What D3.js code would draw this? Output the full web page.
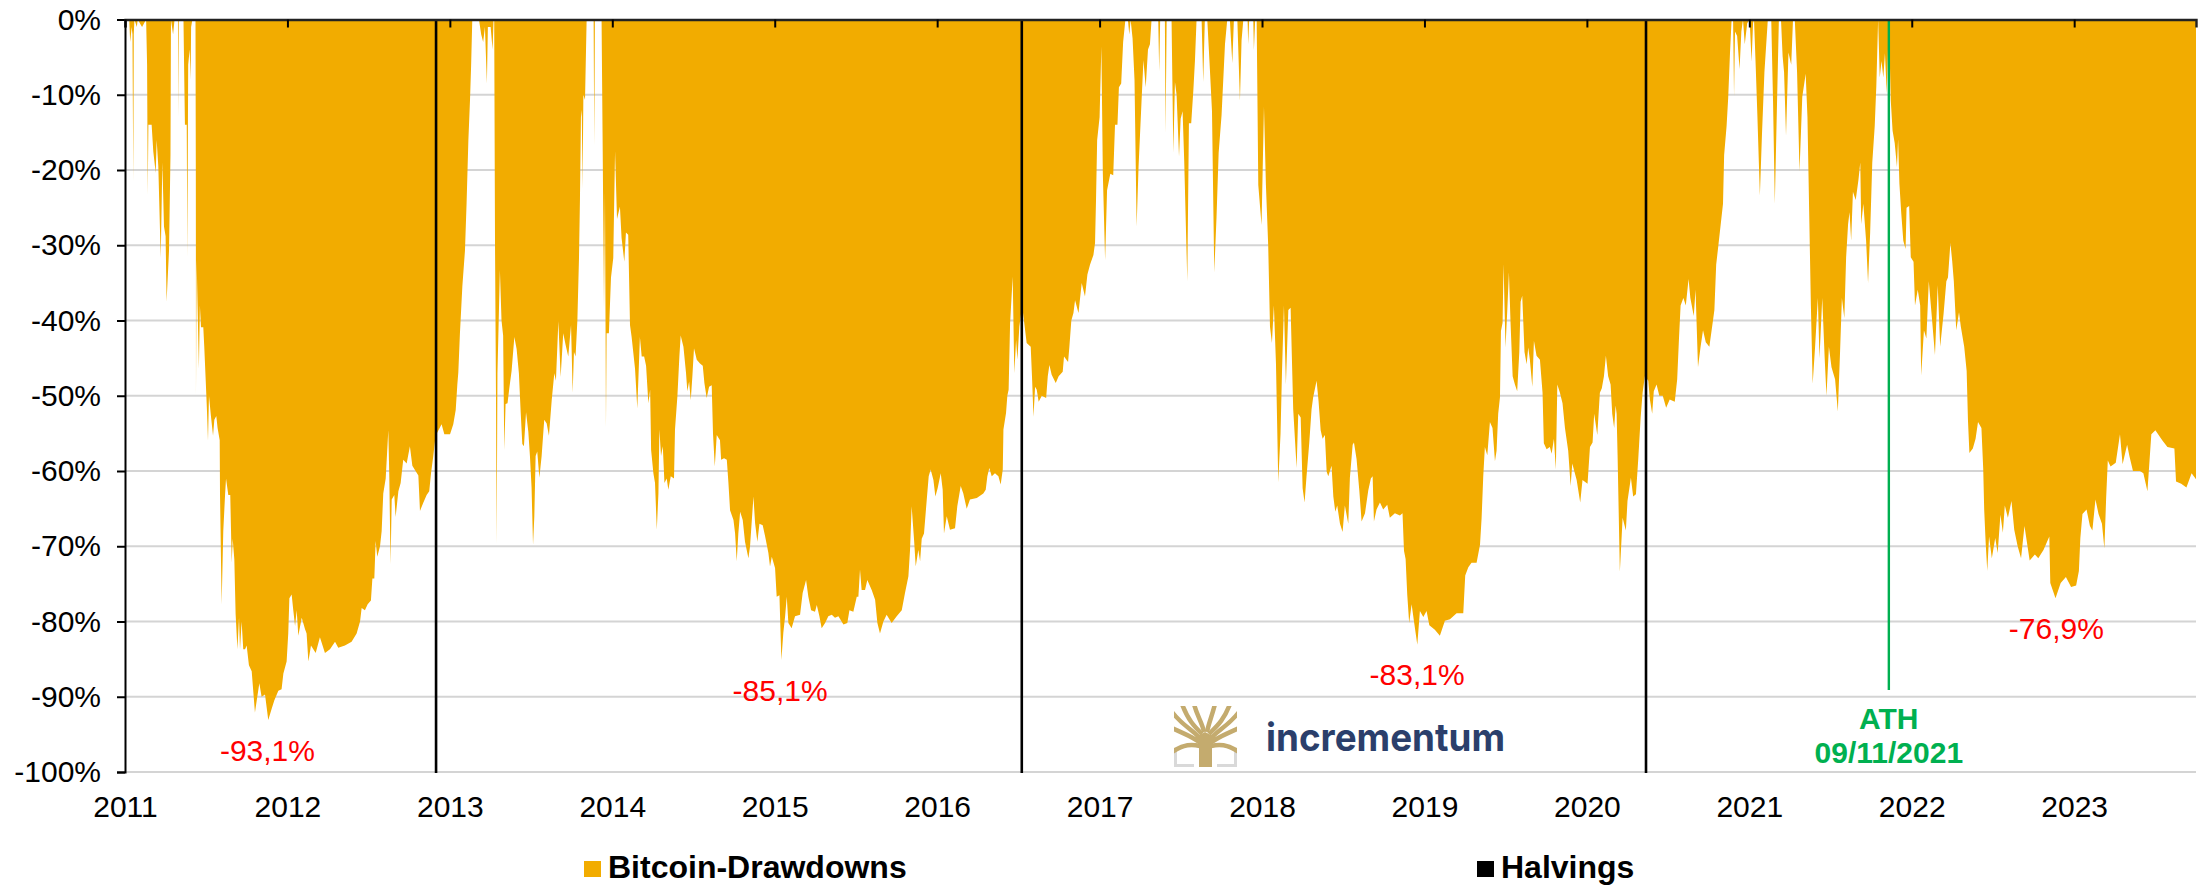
<!DOCTYPE html>
<html>
<head>
<meta charset="utf-8">
<title>Bitcoin-Drawdowns</title>
<script src="https://cdn.jsdelivr.net/npm/d3@7"></script>
<style>
  html, body { margin: 0; padding: 0; background: #fff; overflow: hidden; }
  svg text { font-family: "Liberation Sans", Arial, sans-serif; }
</style>
</head>
<body>
<svg id="chart"></svg>
<script>
const chartWidth = 2204;
const chartHeight = 886;
const plot = { left: 125, right: 2196, top: 19.5, bottom: 772 };

// tick labels
const yearTicks = [2011, 2012, 2013, 2014, 2015, 2016, 2017, 2018, 2019, 2020, 2021, 2022, 2023];
const percentTicks = [0, -10, -20, -30, -40, -50, -60, -70, -80, -90, -100];

// halving dates as fractional years
const halvings = [2012.915, 2016.521, 2020.364];
const athYear = 2021.859;

// [fractional year, drawdown %], one array per halving era
const drawdowns2011 = [
  [2011.000,0],[2011.026,0],[2011.032,-3],[2011.041,-1],[2011.046,-2],[2011.051,-21.7],[2011.054,-2],[2011.058,0],
  [2011.073,-1],[2011.078,0],[2011.105,-1],[2011.130,0],[2011.136,-6],[2011.140,-23.3],[2011.144,-14],[2011.164,-14],
  [2011.174,-17.5],[2011.189,-20.4],[2011.195,-16],[2011.205,-19.5],[2011.220,-31.7],[2011.230,-19],[2011.240,-27.5],
  [2011.250,-28.8],[2011.256,-37.5],[2011.271,-30.7],[2011.280,-18],[2011.283,0],[2011.296,-2],[2011.305,0],
  [2011.326,0],[2011.328,-13],[2011.331,0],[2011.360,0],[2011.365,-8],[2011.369,-14],[2011.380,-14],[2011.384,-31.5],
  [2011.389,-6],[2011.398,-4],[2011.404,-8],[2011.407,-1],[2011.415,0],[2011.434,0],[2011.436,-20],[2011.437,-49.8],
  [2011.441,-32],[2011.455,-46.4],[2011.461,-38],[2011.468,-40.9],[2011.482,-40.9],[2011.488,-43.5],[2011.497,-48],
  [2011.505,-52.2],[2011.511,-56],[2011.517,-50],[2011.529,-52.7],[2011.542,-55.3],[2011.550,-53.2],[2011.562,-52.7],
  [2011.570,-54.3],[2011.583,-55.9],[2011.585,-63.2],[2011.595,-77.7],[2011.605,-68],[2011.616,-63.2],[2011.622,-61],
  [2011.636,-63.2],[2011.648,-63.2],[2011.657,-72.2],[2011.663,-69],[2011.673,-71.7],[2011.681,-79],[2011.692,-83.7],
  [2011.702,-79.5],[2011.708,-83.7],[2011.718,-80],[2011.728,-83.7],[2011.739,-83.7],[2011.749,-83.2],[2011.763,-85.8],
  [2011.780,-86.6],[2011.800,-92.1],[2011.811,-90.5],[2011.827,-88.2],[2011.841,-90],[2011.862,-89.7],[2011.882,-93.1],
  [2011.903,-91.6],[2011.919,-90.5],[2011.944,-89.2],[2011.964,-89],[2011.975,-86.9],[2011.995,-85.3],[2012.005,-81.6],
  [2012.012,-76.9],[2012.026,-76.4],[2012.036,-78.5],[2012.047,-80.6],[2012.057,-78.5],[2012.067,-81.9],[2012.088,-79.5],
  [2012.108,-81],[2012.118,-81.6],[2012.129,-85.3],[2012.145,-83.2],[2012.174,-84.2],[2012.200,-82.1],[2012.231,-84.2],
  [2012.262,-83.7],[2012.293,-82.7],[2012.313,-83.5],[2012.354,-83.2],[2012.395,-82.7],[2012.426,-81.6],[2012.447,-80],
  [2012.457,-78.2],[2012.477,-78.5],[2012.494,-77.7],[2012.514,-77.2],[2012.523,-74.3],[2012.535,-74.3],[2012.543,-69.3],
  [2012.553,-71.4],[2012.570,-70],[2012.580,-68],[2012.590,-63],[2012.605,-61],[2012.621,-54.6],[2012.627,-60.6],
  [2012.635,-72.4],[2012.642,-63.8],[2012.658,-63.2],[2012.666,-66.1],[2012.683,-62.7],[2012.697,-61.6],[2012.713,-58.5],
  [2012.734,-59],[2012.754,-56.7],[2012.769,-59.3],[2012.806,-60.6],[2012.816,-65.3],[2012.837,-64.2],[2012.857,-63.2],
  [2012.873,-62.7],[2012.884,-60.3],[2012.898,-58],[2012.912,-55.3]
];
const drawdowns2013 = [
  [2012.925,-54.8],[2012.949,-53.8],[2012.966,-55.1],[2013.001,-55.1],[2013.021,-53.8],[2013.036,-51.9],[2013.046,-48.5],
  [2013.052,-46.9],[2013.062,-41.7],[2013.077,-35.4],[2013.093,-30.7],[2013.103,-24.4],[2013.114,-16],[2013.124,-10.7],
  [2013.131,-6],[2013.138,0],[2013.179,0],[2013.193,-2],[2013.205,-3],[2013.216,-1],[2013.228,-8.5],[2013.234,-1],
  [2013.251,-1],[2013.263,-4],[2013.269,0],[2013.273,0],[2013.278,-30],[2013.284,-50],[2013.288,-69.8],[2013.293,-47],
  [2013.308,-33.3],[2013.318,-40],[2013.328,-42],[2013.335,-57.2],[2013.343,-51.1],[2013.355,-51],[2013.366,-49],
  [2013.380,-46.7],[2013.397,-42.2],[2013.411,-43.8],[2013.425,-47],[2013.436,-52.2],[2013.446,-56.4],[2013.456,-56.7],
  [2013.469,-52.2],[2013.483,-54.8],[2013.493,-58],[2013.503,-62.2],[2013.512,-69.8],[2013.520,-66],[2013.528,-58],
  [2013.538,-57.4],[2013.551,-60.9],[2013.565,-58],[2013.581,-53.2],[2013.596,-53.7],[2013.610,-55.3],[2013.627,-50.6],
  [2013.643,-47],[2013.653,-48],[2013.668,-40.1],[2013.682,-47.5],[2013.698,-41.7],[2013.713,-43.3],[2013.729,-44.8],
  [2013.746,-40.6],[2013.756,-49.6],[2013.764,-44.2],[2013.774,-44.8],[2013.785,-40],[2013.795,-31.7],[2013.801,-23.8],
  [2013.807,-13],[2013.812,-12],[2013.817,-22.5],[2013.822,-10],[2013.832,-10.7],[2013.842,0],[2013.885,0],[2013.889,-16.7],
  [2013.893,0],[2013.934,0],[2013.940,-15],[2013.949,-38.5],[2013.955,-23],[2013.961,-54.3],[2013.965,-41.7],[2013.979,-41.7],
  [2013.992,-34.3],[2014.006,-31.7],[2014.017,-17.5],[2014.029,-26.5],[2014.047,-24.9],[2014.057,-29],[2014.074,-32.2],
  [2014.084,-28.3],[2014.098,-28.6],[2014.109,-40.6],[2014.119,-42.2],[2014.140,-46.4],[2014.154,-51.7],[2014.170,-42.2],
  [2014.181,-44.8],[2014.196,-44.8],[2014.208,-46],[2014.222,-51],[2014.233,-49.2],[2014.239,-57.2],[2014.253,-60.3],
  [2014.263,-61.6],[2014.274,-67.8],[2014.284,-63],[2014.290,-54.5],[2014.300,-58],[2014.311,-56.7],[2014.321,-61.6],
  [2014.335,-61],[2014.345,-62.5],[2014.360,-60.7],[2014.380,-61],[2014.386,-54.5],[2014.401,-50],[2014.413,-44.8],
  [2014.421,-42],[2014.438,-43.5],[2014.454,-47],[2014.462,-49.4],[2014.473,-48.1],[2014.483,-50.6],[2014.493,-47.4],
  [2014.503,-43.7],[2014.520,-45.2],[2014.540,-45.7],[2014.557,-46],[2014.567,-48.3],[2014.581,-50.3],[2014.596,-48.8],
  [2014.612,-48.6],[2014.620,-55],[2014.631,-59.4],[2014.643,-55.2],[2014.663,-55.9],[2014.670,-58.5],[2014.688,-58.3],
  [2014.705,-58.5],[2014.715,-61.6],[2014.725,-65.2],[2014.746,-66.5],[2014.756,-68.3],[2014.766,-72],[2014.776,-68.3],
  [2014.787,-65.4],[2014.803,-66.5],[2014.817,-69.4],[2014.838,-71.6],[2014.848,-70],[2014.869,-63.4],[2014.879,-66.9],
  [2014.893,-69.4],[2014.906,-67],[2014.926,-67.2],[2014.941,-68.7],[2014.961,-70.9],[2014.971,-72.7],[2014.982,-71.4],
  [2015.002,-72.9],[2015.012,-76.7],[2015.029,-76.5],[2015.041,-85.1],[2015.053,-81.5],[2015.064,-79.3],[2015.074,-76.7],
  [2015.084,-80.2],[2015.104,-80.9],[2015.125,-79.3],[2015.156,-79.1],[2015.172,-76.2],[2015.193,-74.5],[2015.207,-76.7],
  [2015.224,-78.5],[2015.248,-78.7],[2015.259,-77.8],[2015.275,-79.3],[2015.289,-80.9],[2015.310,-80.2],[2015.330,-79.3],
  [2015.351,-79.1],[2015.371,-79.5],[2015.392,-79.3],[2015.423,-80.4],[2015.447,-80.2],[2015.460,-78.5],[2015.484,-78.7],
  [2015.505,-76.7],[2015.515,-76.7],[2015.525,-73.1],[2015.535,-75.8],[2015.556,-75.8],[2015.570,-74.5],[2015.597,-75.8],
  [2015.618,-77.1],[2015.632,-80.2],[2015.648,-81.6],[2015.669,-80],[2015.689,-79.1],[2015.720,-80.2],[2015.751,-79.3],
  [2015.782,-78.5],[2015.802,-76.2],[2015.823,-74],[2015.833,-70.5],[2015.843,-64.7],[2015.858,-69.2],[2015.868,-72.7],
  [2015.884,-70.5],[2015.895,-72],[2015.905,-69],[2015.919,-68.3],[2015.936,-63.8],[2015.948,-60.7],[2015.960,-59.8],
  [2015.977,-61.2],[2015.989,-63.4],[2016.003,-62.3],[2016.022,-60.3],[2016.034,-62.5],[2016.042,-68.3],[2016.059,-66],
  [2016.079,-67.8],[2016.110,-67.6],[2016.124,-64.7],[2016.145,-62],[2016.161,-63],[2016.182,-65],[2016.202,-63.8],
  [2016.244,-63.6],[2016.284,-63],[2016.299,-62.5],[2016.309,-60.7],[2016.321,-59.6],[2016.336,-60.7],[2016.356,-60.3],
  [2016.377,-60.7],[2016.391,-61.8],[2016.404,-59.8],[2016.408,-54.5],[2016.424,-52.3],[2016.432,-50],[2016.440,-49.2],
  [2016.449,-40.4],[2016.465,-34.2],[2016.475,-47],[2016.486,-42.6],[2016.494,-45.2],[2016.506,-40.8],[2016.514,-39.5]
];
const drawdowns2016 = [
  [2016.523,-38],[2016.541,-41.2],[2016.551,-43],[2016.576,-43.5],[2016.584,-47.5],[2016.593,-52.8],[2016.603,-48.8],
  [2016.613,-49.2],[2016.625,-50.8],[2016.644,-50],[2016.671,-50.3],[2016.681,-47.4],[2016.691,-45.9],[2016.705,-47.2],
  [2016.730,-48.3],[2016.748,-47.4],[2016.773,-46.8],[2016.781,-44.8],[2016.806,-45.5],[2016.814,-43.5],[2016.826,-40],
  [2016.839,-39],[2016.849,-37.3],[2016.870,-39],[2016.890,-35],[2016.910,-36.8],[2016.925,-33.9],[2016.941,-32.6],
  [2016.962,-31.3],[2016.972,-29.7],[2016.978,-24],[2016.985,-16],[2017.000,-13],[2017.011,-3.6],[2017.020,-20.5],
  [2017.034,-32],[2017.046,-22.7],[2017.066,-20.5],[2017.084,-20.7],[2017.095,-14],[2017.110,-14],[2017.119,-9],
  [2017.133,-8.5],[2017.145,-3],[2017.159,0],[2017.174,0],[2017.183,-2],[2017.191,0],[2017.203,-2.5],[2017.215,-8],
  [2017.228,-27.5],[2017.240,-19.5],[2017.258,-11],[2017.270,-5.4],[2017.284,-9],[2017.298,-4],[2017.310,-3.3],[2017.320,0],
  [2017.361,0],[2017.367,-6.9],[2017.373,0],[2017.402,0],[2017.406,-15],[2017.413,0],[2017.437,0],[2017.443,0],
  [2017.454,-17.7],[2017.464,-8.3],[2017.474,-10],[2017.489,-18.2],[2017.499,-13.2],[2017.511,-12.2],[2017.521,-18.8],
  [2017.540,-34.8],[2017.550,-13.8],[2017.564,-13.8],[2017.577,-9.5],[2017.587,-5.5],[2017.597,0],[2017.628,0],
  [2017.638,-8.3],[2017.648,0],[2017.663,0],[2017.679,-6.6],[2017.692,-12.2],[2017.706,-33.6],[2017.720,-26.2],
  [2017.733,-17.7],[2017.751,-12.7],[2017.772,-3.3],[2017.786,0],[2017.802,0],[2017.817,-5.8],[2017.827,0],[2017.848,0],
  [2017.864,-10.8],[2017.874,-2.8],[2017.885,0],[2017.911,0],[2017.915,-3.3],[2017.921,0],[2017.946,0],[2017.950,-4.1],
  [2017.958,0],[2017.967,0],[2017.977,-22],[2017.997,-27.3],[2018.012,-11.6],[2018.024,-22],[2018.038,-30],[2018.049,-40.8],
  [2018.061,-43],[2018.073,-38],[2018.086,-45.8],[2018.100,-61.5],[2018.114,-55],[2018.123,-46.8],[2018.135,-38],
  [2018.147,-48.5],[2018.162,-38.6],[2018.176,-38.3],[2018.192,-51.8],[2018.213,-59.6],[2018.223,-52.4],[2018.238,-52.9],
  [2018.250,-62.3],[2018.262,-64.2],[2018.274,-60.7],[2018.291,-56.2],[2018.305,-51.8],[2018.315,-50.2],[2018.336,-48],
  [2018.348,-50.7],[2018.361,-54.6],[2018.373,-55.7],[2018.387,-55.2],[2018.398,-60.1],[2018.408,-60.7],[2018.428,-59.3],
  [2018.439,-63.4],[2018.451,-65.4],[2018.463,-64.6],[2018.480,-67],[2018.496,-68.1],[2018.510,-64.6],[2018.531,-67],
  [2018.541,-60.9],[2018.558,-56.5],[2018.566,-56.2],[2018.582,-58.4],[2018.599,-62.6],[2018.613,-66.7],[2018.634,-65.6],
  [2018.654,-62.6],[2018.670,-61],[2018.681,-60.7],[2018.689,-66.7],[2018.705,-65.1],[2018.726,-64.2],[2018.746,-65.1],
  [2018.771,-64.5],[2018.787,-66.2],[2018.818,-65.6],[2018.849,-65.9],[2018.865,-65.6],[2018.874,-70.6],[2018.884,-71.7],
  [2018.894,-76.4],[2018.906,-80.2],[2018.921,-77.7],[2018.935,-79.9],[2018.956,-83.1],[2018.972,-78.6],[2018.993,-79.4],
  [2019.013,-78.6],[2019.030,-80.5],[2019.064,-81.1],[2019.095,-81.9],[2019.126,-79.9],[2019.157,-79.7],[2019.198,-78.9],
  [2019.239,-78.9],[2019.251,-73.9],[2019.270,-72.8],[2019.290,-72.2],[2019.321,-72.2],[2019.342,-69.8],[2019.352,-66.2],
  [2019.362,-60.7],[2019.372,-56.8],[2019.387,-57.9],[2019.403,-53.5],[2019.419,-54.3],[2019.434,-58.7],[2019.444,-57.3],
  [2019.454,-52.4],[2019.465,-50.2],[2019.471,-41.4],[2019.481,-40.3],[2019.487,-32.5],[2019.499,-43.6],[2019.510,-38.6],
  [2019.520,-33.6],[2019.530,-40.3],[2019.543,-47.4],[2019.557,-48.5],[2019.571,-49.4],[2019.584,-44.2],[2019.592,-37.5],
  [2019.602,-36.7],[2019.616,-44.2],[2019.629,-45.8],[2019.639,-43.6],[2019.649,-45.2],[2019.664,-48.8],[2019.674,-42.7],
  [2019.690,-44.7],[2019.711,-45.2],[2019.727,-49.6],[2019.735,-56.3],[2019.752,-57.1],[2019.772,-56.8],[2019.783,-57.7],
  [2019.797,-55.7],[2019.809,-59.8],[2019.818,-48.5],[2019.834,-49.6],[2019.850,-51],[2019.865,-54.3],[2019.885,-57.3],
  [2019.900,-62],[2019.910,-59],[2019.937,-61.2],[2019.959,-64.2],[2019.973,-61.2],[2020.004,-61.7],[2020.019,-56.8],
  [2020.035,-56.2],[2020.045,-52.4],[2020.064,-55.2],[2020.080,-49.6],[2020.092,-49],[2020.105,-47.4],[2020.117,-44.7],
  [2020.131,-47.4],[2020.146,-48.5],[2020.156,-52.4],[2020.168,-54.3],[2020.177,-51.3],[2020.183,-52.4],[2020.189,-57.9],
  [2020.203,-73.4],[2020.220,-66.2],[2020.240,-67.9],[2020.250,-64],[2020.271,-60.9],[2020.285,-63.4],[2020.302,-63.1],
  [2020.316,-58.5],[2020.331,-52.9],[2020.343,-49.6],[2020.357,-47.4]
];
const drawdowns2020 = [
  [2020.378,-48],[2020.388,-50.5],[2020.402,-52.4],[2020.412,-49.4],[2020.429,-48.5],[2020.446,-50],[2020.467,-50],
  [2020.488,-51.6],[2020.510,-50.5],[2020.541,-50.8],[2020.556,-47.8],[2020.567,-42.4],[2020.577,-38],[2020.594,-37],
  [2020.609,-38],[2020.626,-34.5],[2020.637,-37],[2020.658,-39.4],[2020.669,-35.9],[2020.684,-46.2],[2020.700,-43.5],
  [2020.715,-41.3],[2020.732,-42.9],[2020.754,-43.5],[2020.775,-40.2],[2020.785,-38.6],[2020.796,-32.6],[2020.807,-30.5],
  [2020.824,-27.2],[2020.838,-24.5],[2020.845,-18],[2020.860,-14.2],[2020.870,-10.4],[2020.881,-4.5],[2020.891,0],
  [2020.900,0],[2020.906,-10.2],[2020.912,-1.6],[2020.925,-2.2],[2020.940,-6.6],[2020.951,-1.6],[2020.961,0],
  [2020.972,-3.3],[2020.987,-0.5],[2021.002,0],[2021.014,-5.6],[2021.023,-0.5],[2021.029,0],[2021.040,-6.6],[2021.050,-13],
  [2021.065,-23.4],[2021.078,-15.2],[2021.093,-7],[2021.114,0],[2021.135,0],[2021.146,-10.8],[2021.157,-24.5],[2021.167,-14.6],
  [2021.182,0],[2021.195,0],[2021.205,-4.9],[2021.214,-7],[2021.226,-15.4],[2021.241,-4.4],[2021.258,-6],[2021.269,0],
  [2021.280,0],[2021.294,-7],[2021.309,-20.2],[2021.326,-10.3],[2021.347,-7.2],[2021.358,-13],[2021.369,-26.1],[2021.379,-38],
  [2021.390,-48.4],[2021.405,-43.5],[2021.422,-37],[2021.432,-45],[2021.449,-37],[2021.464,-45],[2021.475,-50],
  [2021.490,-43.5],[2021.506,-46.2],[2021.528,-47.8],[2021.545,-52.1],[2021.559,-44],[2021.570,-37],[2021.585,-39.7],
  [2021.596,-31.6],[2021.608,-27.2],[2021.617,-25.6],[2021.627,-29.4],[2021.638,-22.9],[2021.655,-24],[2021.672,-21.3],
  [2021.683,-19],[2021.689,-27.2],[2021.702,-24.5],[2021.719,-29.4],[2021.731,-35],[2021.744,-28.3],[2021.757,-19],
  [2021.772,-14.2],[2021.782,-8.8],[2021.793,0],[2021.803,-7.7],[2021.814,-5.5],[2021.825,-7.7],[2021.835,-4.5],
  [2021.846,-9.8],[2021.859,0],[2021.871,-10.8],[2021.882,-14.8],[2021.895,-16.4],[2021.909,-19.6],[2021.916,-15.9],
  [2021.924,-21.8],[2021.935,-25.6],[2021.948,-29.4],[2021.962,-30.5],[2021.968,-25],[2021.984,-24.8],[2021.994,-31.6],
  [2022.011,-32.2],[2022.020,-38],[2022.037,-35.9],[2022.052,-38],[2022.058,-47.3],[2022.075,-41.3],[2022.090,-42.4],
  [2022.105,-34.8],[2022.122,-39.1],[2022.143,-44.6],[2022.160,-35.3],[2022.175,-43.5],[2022.196,-39.1],[2022.213,-34.8],
  [2022.223,-34.3],[2022.238,-29.7],[2022.249,-32.1],[2022.259,-34.8],[2022.274,-41.3],[2022.291,-38.9],[2022.302,-40.8],
  [2022.323,-43.5],[2022.338,-46.7],[2022.346,-53.2],[2022.355,-57.6],[2022.376,-57],[2022.393,-55.7],[2022.408,-53.5],
  [2022.429,-54.3],[2022.440,-59.7],[2022.446,-65.1],[2022.455,-69.5],[2022.465,-73.3],[2022.476,-68.7],[2022.493,-71.6],
  [2022.514,-68.9],[2022.529,-70.9],[2022.546,-65.8],[2022.561,-68.2],[2022.573,-64.6],[2022.592,-66.2],[2022.614,-64],
  [2022.631,-67.8],[2022.652,-70],[2022.673,-71.6],[2022.694,-67.3],[2022.726,-71.9],[2022.758,-71.1],[2022.779,-71.6],
  [2022.811,-70.5],[2022.847,-68.7],[2022.853,-74.9],[2022.885,-76.9],[2022.917,-74.9],[2022.949,-74.1],[2022.981,-75.4],
  [2023.012,-75.2],[2023.029,-73.3],[2023.038,-68.9],[2023.051,-65.7],[2023.076,-65.1],[2023.097,-67.3],[2023.112,-67.9],
  [2023.131,-63.8],[2023.150,-65.7],[2023.171,-67],[2023.186,-70.3],[2023.197,-63.5],[2023.207,-58.6],[2023.224,-59.4],
  [2023.256,-58.9],[2023.282,-55.1],[2023.298,-59.1],[2023.326,-56.5],[2023.341,-58.1],[2023.362,-60],[2023.405,-60],
  [2023.426,-60.3],[2023.451,-62.7],[2023.464,-58.6],[2023.475,-55.1],[2023.500,-54.6],[2023.542,-55.9],[2023.574,-56.8],
  [2023.617,-57],[2023.627,-61.4],[2023.659,-61.7],[2023.691,-62.2],[2023.723,-60.3],[2023.750,-61.1]
];

// the four red low labels
const lowLabels = ["-93,1%", "-85,1%", "-83,1%", "-76,9%"];
const lowLabelYears = [2011.877, 2015.033, 2018.955, 2022.890];
const lowLabelValues = [-98.5, -90.5, -88.4, -82.3];

const drawdowns = [...drawdowns2011, ...drawdowns2013, ...drawdowns2016, ...drawdowns2020];

const svg = d3.select("#chart")
  .attr("width", chartWidth)
  .attr("height", chartHeight)
  .style("display", "block");

const x = d3.scaleLinear().domain([2011, 2023.75]).range([plot.left, plot.right]);
const y = d3.scaleLinear().domain([0, -100]).range([plot.top, plot.bottom]);

// gridlines under the area
svg.append("g")
  .selectAll("line")
  .data(percentTicks.filter(d => d !== 0))
  .enter()
  .append("line")
  .attr("x1", plot.left)
  .attr("x2", plot.right)
  .attr("y1", d => y(d))
  .attr("y2", d => y(d))
  .attr("stroke", "#d4d4d4")
  .attr("stroke-width", 2);

const area = d3.area()
  .x(d => x(d[0]))
  .y0(y(0))
  .y1(d => y(d[1]));

svg.append("path")
  .datum(drawdowns)
  .attr("fill", "#f2ac00")
  .attr("d", area);

// Halvings
svg.append("g")
  .selectAll("line")
  .data(halvings)
  .enter()
  .append("line")
  .attr("x1", d => x(d))
  .attr("x2", d => x(d))
  .attr("y1", plot.top)
  .attr("y2", plot.bottom + 1)
  .attr("stroke", "#000")
  .attr("stroke-width", 2.6);

// ATH marker
svg.append("line")
  .attr("x1", x(athYear))
  .attr("x2", x(athYear))
  .attr("y1", plot.top)
  .attr("y2", 690)
  .attr("stroke", "#00b050")
  .attr("stroke-width", 2.4);

// axes
const yAxis = svg.append("g")
  .attr("transform", `translate(${plot.left},0)`)
  .call(d3.axisLeft(y).tickValues(percentTicks).tickSize(8).tickPadding(16).tickFormat(d => d + "%"));
yAxis.select(".domain").attr("stroke", "#000").attr("stroke-width", 2);
yAxis.selectAll(".tick line").attr("stroke", "#000").attr("stroke-width", 2);
yAxis.selectAll("text")
  .attr("fill", "#000")
  .style("font-size", "30px");

// the x axis ticks hang from the 0% line, the labels sit under the plot
const xTicks = svg.append("g")
  .attr("transform", `translate(0,${plot.top})`)
  .call(d3.axisBottom(x).tickValues(yearTicks).tickSize(8).tickFormat(""));
xTicks.select(".domain").attr("stroke", "#222").attr("stroke-width", 2.4);
xTicks.selectAll(".tick line").attr("stroke", "#000").attr("stroke-width", 2);

const xLabels = svg.append("g")
  .attr("transform", `translate(0,${plot.bottom})`)
  .call(d3.axisBottom(x).tickValues(yearTicks).tickSize(0).tickPadding(24).tickFormat(d3.format("d")));
xLabels.select(".domain").remove();
xLabels.selectAll("text")
  .attr("fill", "#000")
  .style("font-size", "30px");

// red labels
svg.append("g")
  .selectAll("text")
  .data(lowLabels)
  .enter()
  .append("text")
  .attr("x", (d, i) => x(lowLabelYears[i]))
  .attr("y", (d, i) => y(lowLabelValues[i]))
  .attr("text-anchor", "middle")
  .attr("fill", "#ff0000")
  .style("font-size", "30px")
  .text(d => d);

// ATH label
svg.append("text")
  .attr("x", x(athYear))
  .attr("y", 729)
  .attr("text-anchor", "middle")
  .attr("fill", "#00b050")
  .style("font-size", "30px")
  .style("font-weight", "bold")
  .text("ATH");
svg.append("text")
  .attr("x", x(athYear))
  .attr("y", 763)
  .attr("text-anchor", "middle")
  .attr("fill", "#00b050")
  .style("font-size", "30px")
  .style("font-weight", "bold")
  .text("09/11/2021");

// legend
const legend = svg.append("g");
legend.append("rect").attr("x", 584).attr("y", 861).attr("width", 17).attr("height", 16).attr("fill", "#f2ac00");
legend.append("text").attr("x", 608).attr("y", 878).style("font-size", "32px").style("font-weight", "bold").text("Bitcoin-Drawdowns");
legend.append("rect").attr("x", 1477).attr("y", 861).attr("width", 17).attr("height", 16).attr("fill", "#000");
legend.append("text").attr("x", 1501).attr("y", 878).style("font-size", "32px").style("font-weight", "bold").text("Halvings");

// logo
const logo = svg.append("g").attr("transform", "translate(1174,706)");
logo.append("clipPath").attr("id", "logoClip")
  .append("rect").attr("width", 63).attr("height", 61);
const tree = logo.append("g").attr("clip-path", "url(#logoClip)");
const brackets = ["M1.5,42V59.5H20", "M61.5,42V59.5H43"];
tree.selectAll("path.bracket")
  .data(brackets)
  .enter()
  .append("path")
  .attr("class", "bracket")
  .attr("d", d => d)
  .attr("fill", "none")
  .attr("stroke", "#d9d9d9")
  .attr("stroke-width", 3);
const branches = [
  "M30,38C22,24 12,24 -2,6", "M28,28C20,20 14,14 8,-2", "M30,26C28,16 23,10 20,-2",
  "M33,26C35,16 38,10 41,-2", "M35,28C43,20 50,14 56,-2", "M33,38C41,24 51,24 65,6",
  "M28,38C18,30 10,28 -2,22", "M35,38C45,30 53,28 65,22", "M26,40C18,38 10,38 -2,46", "M37,40C45,38 53,38 65,46"
];
tree.selectAll("path.branch")
  .data(branches)
  .enter()
  .append("path")
  .attr("class", "branch")
  .attr("d", d => d)
  .attr("fill", "none")
  .attr("stroke", "#c4ab6e")
  .attr("stroke-width", 4.5);
tree.append("path")
  .attr("d", "M25,61V42C25,36 22,34 20,32L31,26L43,32C41,34 38,36 38,42V61Z")
  .attr("fill", "#c4ab6e");

svg.append("text")
  .attr("x", 1266)
  .attr("y", 751)
  .attr("textLength", 239)
  .attr("lengthAdjust", "spacingAndGlyphs")
  .attr("fill", "#2b3f6b")
  .style("font-family", "Inter, 'Liberation Sans', sans-serif")
  .style("font-size", "38px")
  .style("font-weight", "700")
  .text("incrementum");
</script>
</body>
</html>
